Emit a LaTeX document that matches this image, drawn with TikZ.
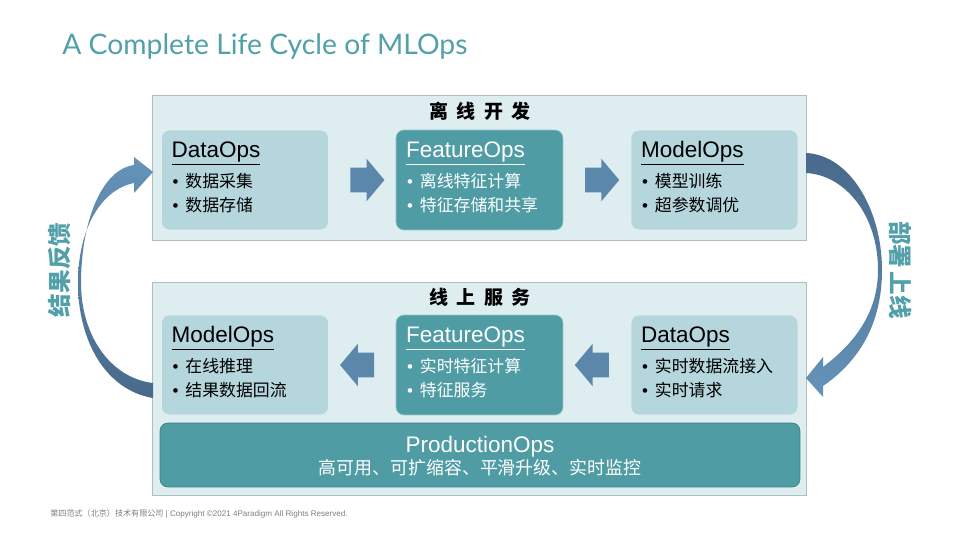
\documentclass[tikz,border=0pt]{standalone}
\usepackage{fontspec}
\setmainfont{Liberation Sans}
\newfontfamily\cjk{Noto Sans CJK SC}
\newfontfamily\titlefont{Lato}
\usetikzlibrary{positioning, shapes.arrows, calc}

\definecolor{panelbg}{HTML}{DEEDEF}
\definecolor{panelline}{HTML}{AEBFC2}
\definecolor{lightbox}{HTML}{B5D6DC}
\definecolor{darkbox}{HTML}{4F9CA5}
\definecolor{darkline}{HTML}{3F7F88}
\definecolor{steel}{HTML}{5B87AA}
\definecolor{steeldark}{HTML}{48698A}
\definecolor{steellight}{HTML}{6593B9}
\definecolor{tealtext}{HTML}{52A0A9}

\begin{document}
\begin{tikzpicture}[
  x=0.02cm, y=-0.02cm,
  panel/.style={draw=panelline, fill=panelbg, minimum width=13.08cm},
  lbox/.style={draw=white!60!lightbox, fill=lightbox, rounded corners=4.5pt, minimum width=3.34cm, minimum height=2cm},
  dbox/.style={lbox, draw=white!40!darkbox, fill=darkbox},
  head/.style={inner sep=0pt, font=\fontsize{12.8}{14}\selectfont},
  item/.style={inner sep=0pt, font=\fontsize{9.6}{12}\selectfont},
  ptitle/.style={font=\cjk\bfseries\fontsize{10.8}{12}\selectfont},
  barrow/.style={single arrow, fill=steel, inner xsep=0pt, inner ysep=0.24cm, minimum height=0.68cm,
    single arrow head extend=0.18cm, single arrow head indent=0pt, single arrow tip angle=100},
  side/.style={text=tealtext, font=\cjk\bfseries\fontsize{13.4}{15}\selectfont}
]
  \fill[white] (0,0) rectangle (960,540);
  \useasboundingbox (0,0) rectangle (960,540);

  % Title
  \node[anchor=base west, inner sep=0pt, text=tealtext, font=\titlefont\fontsize{16.1}{20}\selectfont] (title) at (62,55) {A Complete Life Cycle of MLOps};

  % Panels
  \node[panel, minimum height=2.9cm] (offline) at (479,167.5) {};
  \node[panel, minimum height=4.26cm] (online) at (479,388.5) {};
  \node[ptitle] (offt) at (480,111) {离\hspace{0.45em}线\hspace{0.45em}开\hspace{0.45em}发};
  \node[ptitle] (onlt) at (480,297) {线\hspace{0.45em}上\hspace{0.45em}服\hspace{0.45em}务};

  % Ops boxes
  \foreach \n/\x/\y/\s/\c/\h/\a/\b in {
    d1/245/180/lbox/black/DataOps/数据采集/数据存储,
    f1/479.5/180/dbox/white/FeatureOps/离线特征计算/特征存储和共享,
    m1/714.5/180/lbox/black/ModelOps/模型训练/超参数调优,
    m2/245/365/lbox/black/ModelOps/在线推理/结果数据回流,
    f2/479.5/365/dbox/white/FeatureOps/实时特征计算/特征服务,
    d2/714.5/365/lbox/black/DataOps/实时数据流接入/实时请求} {
    \node[\s] (\n) at (\x,\y) {};
    \node[head, text=\c, anchor=base west] (\n-h) at ([shift={(10,28)}]\n.north west) {\underline{\h}};
    \node[item, text=\c, anchor=base west] (\n-a) at ([shift={(11,58)}]\n.north west) {•\hspace{4pt}{\cjk\a}};
    \node[item, text=\c, anchor=base west] (\n-b) at ([shift={(11,82)}]\n.north west) {•\hspace{4pt}{\cjk\b}};
  }

  % ProductionOps
  \node[dbox, draw=darkline, minimum width=12.8cm, minimum height=1.28cm] (prod) at (480,455) {};
  \node[head, text=white, anchor=base] (prod-h) at (480,452) {ProductionOps};
  \node[item, text=white, anchor=base, font=\cjk\fontsize{10.2}{12}\selectfont] (prod-s) at (480,474) {高可用、可扩缩容、平滑升级、实时监控};

  % Block arrows
  \node[barrow] (a1) at ($(d1.east)!0.5!(f1.west)$) {};
  \node[barrow] (a2) at ($(f1.east)!0.5!(m1.west)$) {};
  \node[barrow, shape border rotate=180] (a3) at ($(f2.east)!0.5!(d2.west)$) {};
  \node[barrow, shape border rotate=180] (a4) at ($(m2.east)!0.5!(f2.west)$) {};

  % Feedback arrow (left)
  \shade[top color=steellight, bottom color=steeldark]
    (153,398) .. controls (105,390) and (78,340) .. (78,283)
    .. controls (78,230) and (100,190) .. (134,183)
    -- (134,193) -- (153,172) -- (134,157) -- (134,165)
    .. controls (100,170) and (81,225) .. (81,283)
    .. controls (81,335) and (110,378) .. (153,383) -- cycle;
  \node[side, rotate=90] (back) at (60,270) {结果反馈};

  % Deploy arrow (right)
  \shade[top color=steeldark, bottom color=steellight]
    (806,153) .. controls (850,155) and (882,210) .. (882,270)
    .. controls (882,325) and (858,362) .. (823,386)
    -- (823,397) -- (806,378) -- (823,357) -- (823,367)
    .. controls (852,345) and (878,315) .. (878,270)
    .. controls (878,215) and (845,175) .. (806,173) -- cycle;
  \node[side, rotate=-90] (deploy) at (901,270) {部署\hspace{2pt}上线};

  % Footer
  \node[anchor=base west, inner sep=0pt, text=black!50, font=\fontsize{4.6}{5}\selectfont] (foot) at (50,516)
    {{\cjk 第四范式（北京）技术有限公司}\ |\ Copyright ©2021 4Paradigm All Rights Reserved.};
\end{tikzpicture}
\end{document}
